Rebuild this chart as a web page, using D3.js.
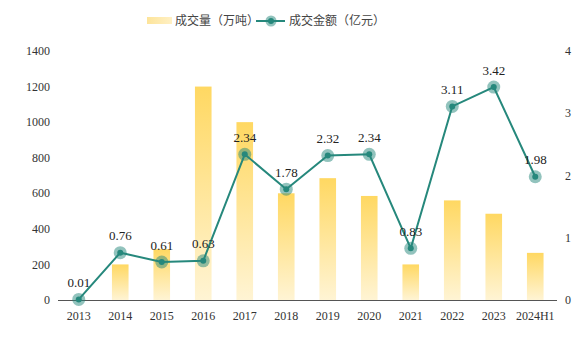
<!DOCTYPE html>
<html><head><meta charset="utf-8">
<script src="https://cdn.jsdelivr.net/npm/d3@7"></script>
<style>body{margin:0;background:#fff;}svg{display:block;}</style>
</head><body>
<script>
const categories = ["2013","2014","2015","2016","2017","2018","2019","2020","2021","2022","2023","2024H1"];
const volume = [0, 200, 286, 1200, 1000, 600, 685, 585, 200, 560, 485, 265];
const amount = [0.01, 0.76, 0.61, 0.63, 2.34, 1.78, 2.32, 2.34, 0.83, 3.11, 3.42, 1.98];
const leftTicks = [0,200,400,600,800,1000,1200,1400];
const rightTicks = [0,1,2,3,4];
const seriesNames = ["成交量（万吨）","成交金额（亿元）"];

const W = 583, H = 346;
const svg = d3.select("body").append("svg").attr("width", W).attr("height", H);
const defs = svg.append("defs");
const grad = defs.append("linearGradient").attr("id","barg").attr("x1",0).attr("y1",0).attr("x2",0).attr("y2",1);
grad.append("stop").attr("offset","0%").attr("stop-color","#ffd862");
grad.append("stop").attr("offset","100%").attr("stop-color","#fff4d4");
const lg = defs.append("linearGradient").attr("id","legg").attr("x1",0).attr("y1",0).attr("x2",1).attr("y2",0);
lg.append("stop").attr("offset","0%").attr("stop-color","#fde49a");
lg.append("stop").attr("offset","100%").attr("stop-color","#fff0c4");

const x = d3.scaleBand().domain(categories).range([58, 556]).paddingInner(0.6).paddingOuter(0.3);
const yL = d3.scaleLinear().domain([0,1400]).range([300, 51]);
const yR = d3.scaleLinear().domain([0,4]).range([300, 51]);
const teal = "#26887c";
const numFont = "'Liberation Serif','Times New Roman',serif";

// left axis labels
svg.append("g").selectAll("text").data(leftTicks).join("text")
  .attr("x", 50).attr("y", d => yL(d)).attr("dy","0.35em").attr("text-anchor","end")
  .attr("font-family", numFont).attr("font-size", 12).attr("fill","#333").text(d => d);
// right axis labels
svg.append("g").selectAll("text").data(rightTicks).join("text")
  .attr("x", 565).attr("y", d => yR(d)).attr("dy","0.35em").attr("text-anchor","start")
  .attr("font-family", numFont).attr("font-size", 12).attr("fill","#333").text(d => d);

// bars
svg.append("g").selectAll("rect").data(volume).join("rect")
  .attr("x", (d,i) => x(categories[i]))
  .attr("width", x.bandwidth())
  .attr("y", d => yL(d)).attr("height", d => 300 - yL(d))
  .attr("fill","url(#barg)");

// x axis line
svg.append("line").attr("x1",58).attr("x2",557).attr("y1",300.5).attr("y2",300.5)
  .attr("stroke","#555").attr("stroke-width",1);

// x labels
svg.append("g").selectAll("text").data(categories).join("text")
  .attr("x", d => x(d) + x.bandwidth()/2).attr("y", 316).attr("dy","0.35em")
  .attr("text-anchor","middle").attr("font-family", numFont).attr("font-size", 12).attr("fill","#333")
  .text(d => d);

// line
const cx = i => x(categories[i]) + x.bandwidth()/2;
const line = d3.line().x((d,i) => cx(i)).y(d => yR(d));
svg.append("path").datum(amount).attr("d", line).attr("fill","none")
  .attr("stroke", teal).attr("stroke-width", 2);
const pts = svg.append("g");
pts.selectAll("circle.h").data(amount).join("circle").attr("class","h")
  .attr("cx",(d,i)=>cx(i)).attr("cy",d=>yR(d)).attr("r",6.5)
  .attr("fill", teal).attr("fill-opacity",0.5);
pts.selectAll("circle.c").data(amount).join("circle").attr("class","c")
  .attr("cx",(d,i)=>cx(i)).attr("cy",d=>yR(d)).attr("r",3)
  .attr("fill", teal);
// labels
svg.append("g").selectAll("text").data(amount).join("text")
  .attr("x",(d,i)=>cx(i)).attr("y", d => yR(d) - 17).attr("dy","0.35em")
  .attr("text-anchor","middle").attr("font-family", numFont).attr("font-size", 13).attr("fill","#222")
  .text(d => d.toFixed(2));

// legend
const leg = svg.append("g");
leg.append("rect").attr("x",147).attr("y",17).attr("width",25).attr("height",7).attr("fill","url(#legg)");
leg.append("text").attr("x",175).attr("y",21).attr("dy","0.35em").attr("font-family","'Noto Sans CJK SC',sans-serif")
  .attr("font-size",12).attr("fill","#444").text(seriesNames[0]);
leg.append("line").attr("x1",256).attr("x2",285).attr("y1",21).attr("y2",21).attr("stroke",teal).attr("stroke-width",2);
leg.append("circle").attr("cx",271).attr("cy",21).attr("r",5.5).attr("fill",teal).attr("fill-opacity",0.5);
leg.append("circle").attr("cx",271).attr("cy",21).attr("r",3).attr("fill",teal);
leg.append("text").attr("x",289).attr("y",21).attr("dy","0.35em").attr("font-family","'Noto Sans CJK SC',sans-serif")
  .attr("font-size",12).attr("fill","#444").text(seriesNames[1]);
</script>
</body></html>
